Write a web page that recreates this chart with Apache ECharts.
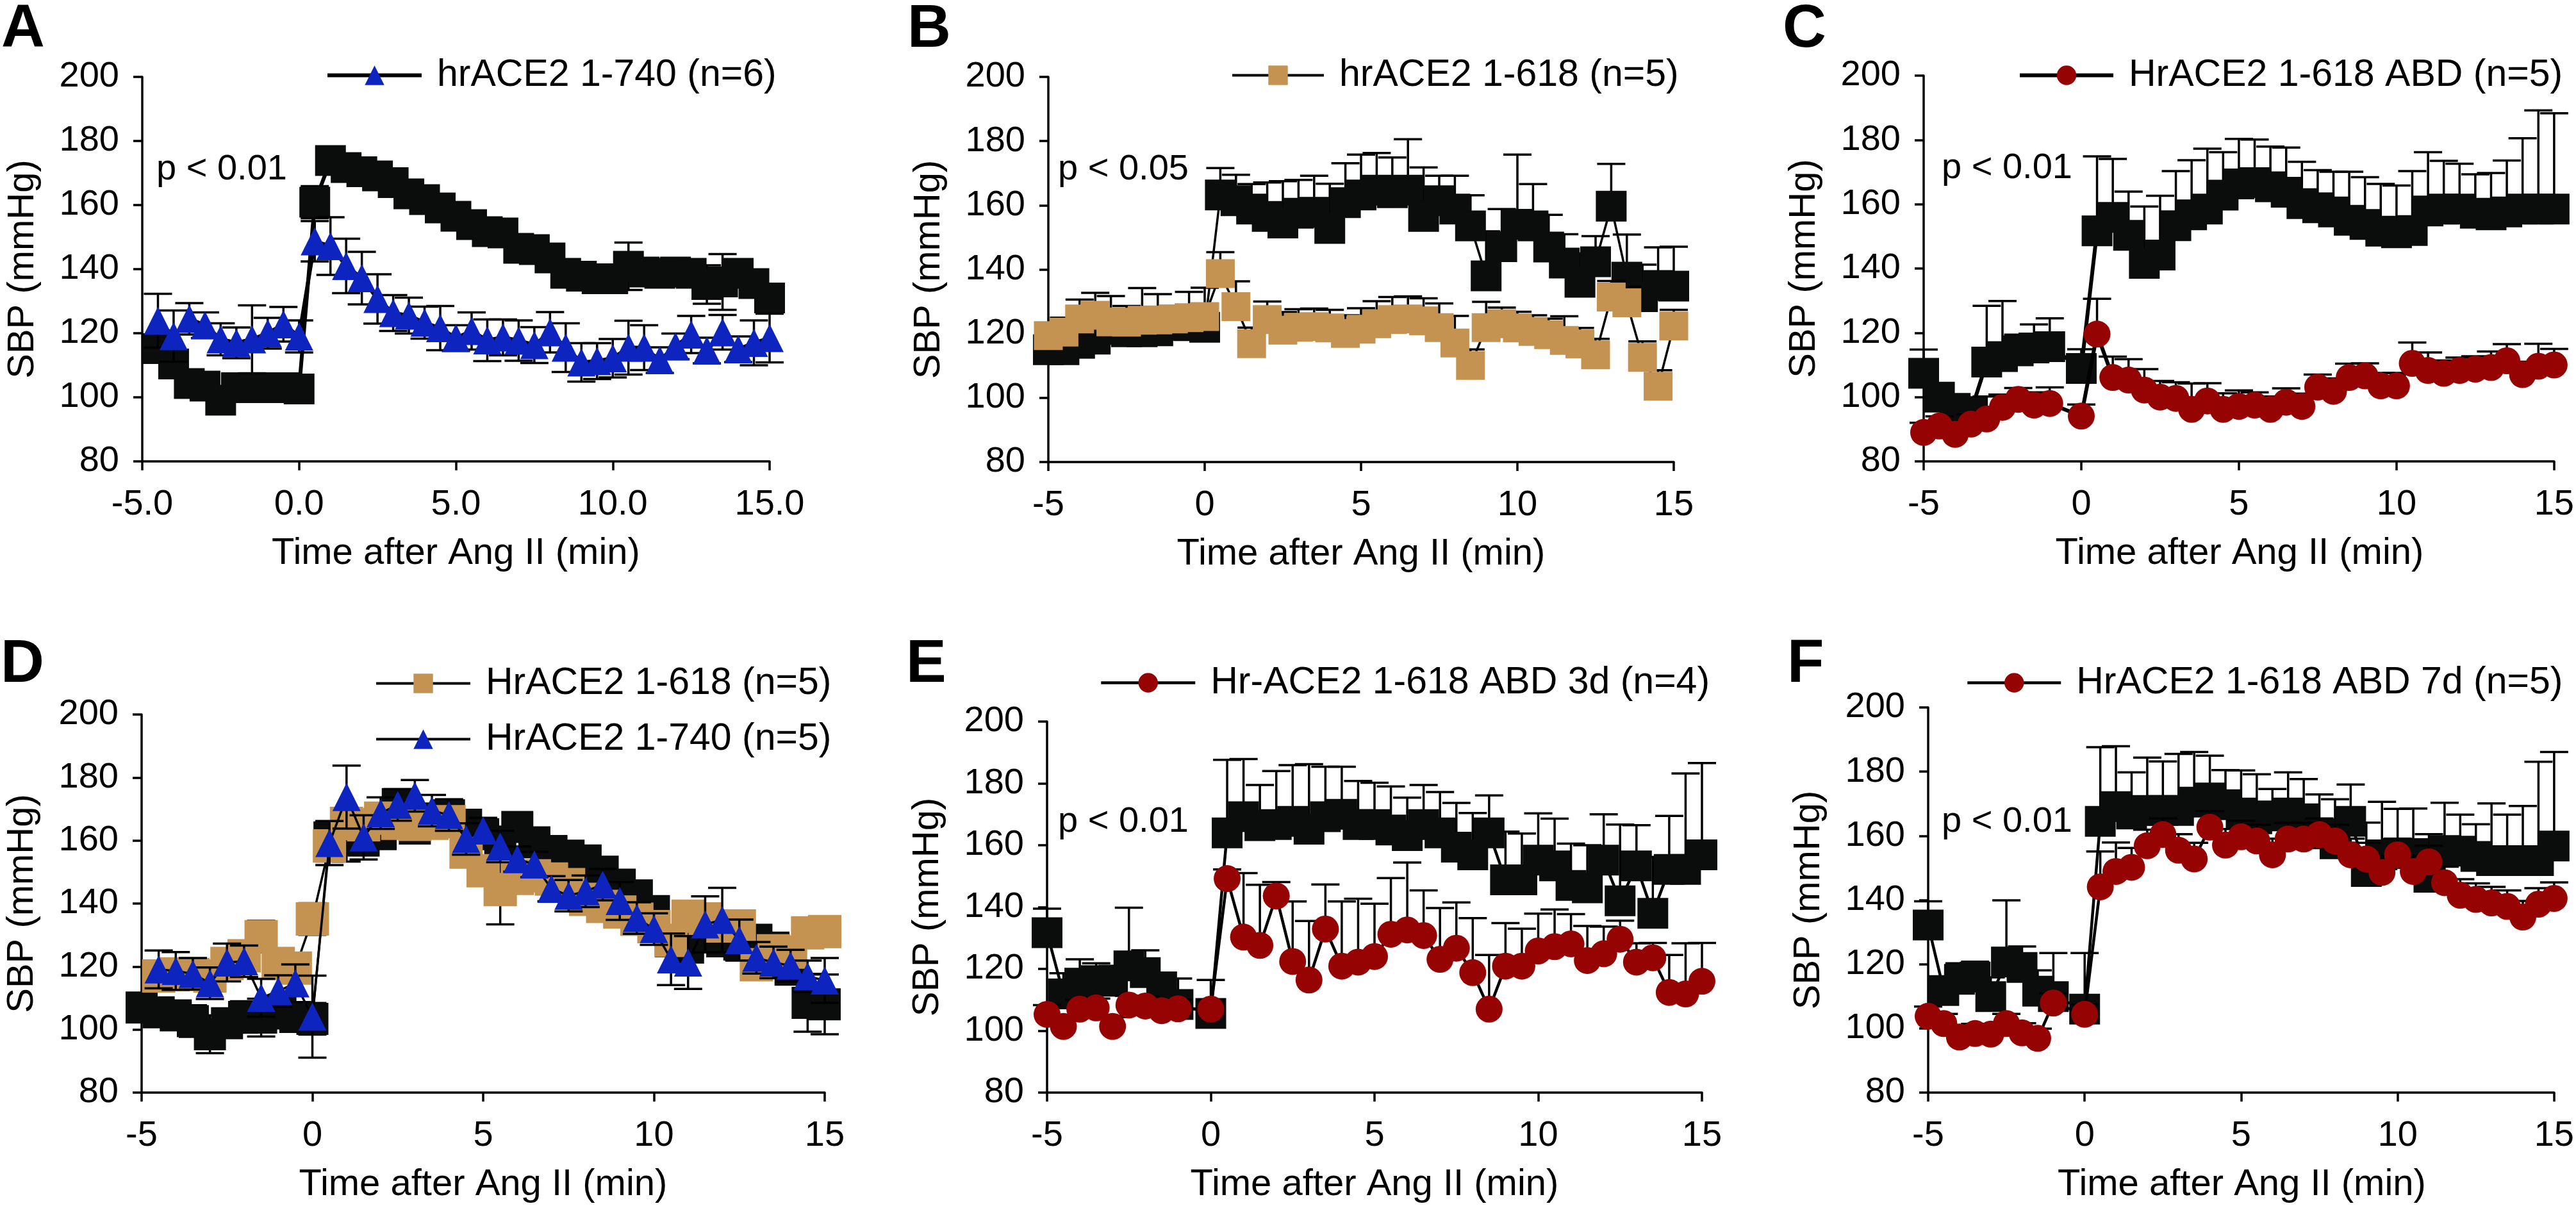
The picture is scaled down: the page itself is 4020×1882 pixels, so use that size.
<!DOCTYPE html>
<html><head><meta charset="utf-8">
<script src="https://cdn.jsdelivr.net/npm/echarts@6/dist/echarts.min.js"></script>
<style>html,body{margin:0;padding:0;background:#fff}#c{width:4020px;height:1882px}</style>
</head><body><div id="c"></div>
<script>
// ---------- DATA ----------
const time = [-5,-4.5,-4,-3.5,-3,-2.5,-2,-1.5,-1,-0.5,0,0.5,1,1.5,2,2.5,3,3.5,4,4.5,5,5.5,6,6.5,7,7.5,8,8.5,9,9.5,10,10.5,11,11.5,12,12.5,13,13.5,14,14.5,15];
const yTicks = [80,100,120,140,160,180,200];
const xTicks = [-5,0,5,10,15];

// Panel A
const aCtrl = [null,115.2,110.4,104.3,103.5,99.1,103.0,103.0,103.0,103.0,102.6,160.9,173.9,171.7,170.4,169.1,167.0,163.5,161.7,159.1,156.5,153.9,151.7,151.3,146.5,146.1,143.5,138.7,137.8,137.0,137.0,140.9,139.1,138.7,139.1,138.7,135.2,136.0,138.7,135.5,131.0];
const aCtrlErr = [null,3,4,3,3,3,3,3,3,3,3,5,3,3,3,3,3,3,3,3,3,3,3,3,3,3,3,3,3,3,3,7.4,3,3,3,3,6,8.7,3,4,4];
const a740 = [null,123.9,119.1,124.5,122.5,118.1,117.0,118.1,120.0,122.8,119.0,148.7,147.2,141.0,137.2,130.7,126.3,125.5,123.3,121.6,118.5,120.7,117.8,118.7,117.7,116.3,120.3,115.5,110.9,111.3,112.2,115.5,115.5,111.6,115.9,119.6,114.6,120.3,115.0,117.0,118.5];
const a740Err = [null,8.4,8,4.9,4,5,4.8,10.6,4.8,5.4,5,6.3,9,8.5,8.2,7.7,5.6,5.6,5,6.9,4,5.8,6.5,5.6,6.3,5.6,6.3,7.6,6,5.6,6,8.4,7,4,4,5.8,4,5.4,4,7,7.6];

// Panel B
const bCtrl = [115.0,115.0,117.0,118.3,121.3,120.6,120.6,120.9,122.6,122.5,122.0,163.2,161.4,158.8,156.5,154.5,157.5,157.8,152.8,160.8,163.2,164.7,163.9,164.7,156.5,161.4,158.8,153.6,138.0,147.1,154.1,153.6,147.0,142.0,136.0,142.4,159.7,137.6,131.5,135.0,134.8];
const bCtrlErr = [3,3,4,5,5,5,5,5,5,5,5,8.4,8.1,7.8,10.6,13,10.4,11.4,13.9,12.3,12.6,11.6,11,15.9,15.3,7.8,10.4,9.5,13.9,11.7,21.7,13,10,9,9,8,13.2,13.3,10,11.9,12.3];
const b618 = [119.4,120.5,124.6,125.7,123.7,123.6,124.2,124.3,124.6,125.0,125.3,138.7,128.4,116.9,124.4,121.1,122.0,122.2,121.8,120.1,121.4,123.1,124.4,124.6,124.0,121.9,117.1,110.1,121.9,123.1,121.8,120.7,119.7,117.9,116.8,113.4,131.4,129.6,112.6,103.6,122.4];
const b618Err = [2,4.5,6,7,8,5,10,8,4,8,9,6.7,7.9,5,5.6,5.6,5.6,5.6,5.6,5.6,6.5,7,7,7,7,7.5,8.4,5,8,5,5,5,5,7.5,5,5,5,5,5,5,5];

// Panel C
const cCtrl = [107.4,100.0,96.5,95.5,110.9,112.6,114.4,115.3,115.7,null,108.9,151.7,155.9,150.3,141.6,144.2,153.3,156.7,158.5,162.8,166.3,166.7,165.4,163.7,160.2,158.9,157.6,155.0,153.7,151.6,151.1,151.8,157.9,158.5,158.5,157.2,156.7,157.6,158.5,158.5,158.5];
const cCtrlErr = [7.4,2,3,3,17.5,17.3,5,7.3,8.8,null,6,23.2,18.2,13.6,17.7,18.4,17,17,18.8,13.4,14,13.4,12.5,13.9,13,11.7,12.5,15.1,14.7,14.7,14.7,18.5,18.3,15,14.1,12.1,13,16,22,30.7,29.8];
const cAbd = [89.0,91.0,88.4,91.6,93.2,96.8,99.3,97.5,98.0,null,94.1,119.6,106.1,105.3,102.2,100.0,99.6,96.2,98.8,96.2,97.1,97.5,96.2,98.4,97.1,103.1,101.8,106.1,106.6,103.5,103.5,110.5,108.3,107.4,108.3,108.7,109.2,111.3,107.0,109.6,110.0];
const cAbdErr = [3,3,3,3,7,4,3.5,4,5,null,3.6,11,6.5,6.5,6.5,5,5,8,5.5,5,5,4,4,4.3,4,3.9,4,4.3,3.9,4,4,6.5,5.6,4,4,4,5,5.2,4,7,5];

// Panel D
const dCtrl = [107.0,105.5,104.5,102.7,98.5,102.0,104.0,103.8,105.4,104.0,103.4,161.0,160.3,160.0,162.0,171.6,163.8,167.0,168.0,165.0,162.0,159.7,164.3,159.4,156.7,155.2,153.7,150.1,146.0,142.6,137.6,128.0,126.0,130.0,128.0,127.0,128.5,126.0,119.0,108.5,108.0];
const dCtrlErr = [4,4,4,5,6,4,5,6,5,4,5,5,7,4,4,4,4,4,4,4,4,4,4,4,4,4,4,4,4,4,4,4,4,4,4,4,4,4,4,9.2,9.5];
const d618 = [null,117.0,117.7,117.5,117.0,121.0,123.4,129.5,121.0,119.5,135.1,158.3,165.4,165.0,167.1,165.5,165.1,165.5,166.0,156.3,150.4,144.4,148.0,148.8,147.8,146.0,141.3,139.1,137.3,135.0,132.7,128.3,136.0,135.1,132.9,132.9,120.6,125.0,124.6,130.7,131.1];
const d618Err = [null,4,4,4,4,4,4,5,4,4,5,5,4,4,4,4,4,4,4,4,4,11,4,4,4,4,4,4,4,4,4,4,4,4,4,4,4,4,4,4,4];
const d740 = [null,119.1,118.6,117.7,114.7,121.3,121.7,110.1,112.2,114.7,104.1,159.2,173.8,161.0,168.7,171.3,174.2,169.5,168.1,160.5,163.2,158.1,154.1,152.4,144.7,142.5,143.9,146.0,140.8,135.4,131.9,122.3,121.3,133.4,134.8,128.4,122.8,121.3,120.3,116.9,115.6];
const d740Err = [null,6,6,5,5,6,5,6,5,6,13,7,10,7,5,5,5,5,5,5,4,5,4,4,4,5,5,5,6,5,5,8.2,8.4,8.9,10.2,6.5,5,5,5,5,7.1];

// Panel E
const eCtrl = [131.7,111.9,115.4,116.2,116.0,121.0,118.8,114.2,108.5,null,105.6,164.0,169.2,166.3,166.7,167.7,165.2,169.2,170.0,166.7,166.7,164.9,163.1,166.7,164.0,159.4,156.9,164.0,148.8,148.8,155.2,153.3,147.0,146.2,155.2,142.0,153.3,138.0,152.2,152.2,156.9];
const eCtrlErr = [7.8,6.7,7.7,5.6,5,18.8,7.2,4.3,8.4,null,10.8,23.6,18.7,13.2,17.3,18.2,21,16.2,15.4,14.1,13.5,14.1,12.3,12.8,13.2,14.3,13.5,12.1,15.6,15,15.1,15.3,13.5,13.8,14.8,24.7,13.2,18.2,17.3,31,29.7];
const eAbd3 = [105.3,101.4,107.0,107.4,101.4,108.3,108.0,106.5,107.1,null,107.0,149.2,130.3,127.6,143.6,122.4,116.4,132.9,120.9,122.2,124.0,131.2,132.6,130.8,123.1,126.7,118.8,107.0,120.9,120.9,125.8,127.2,128.1,122.7,124.9,129.6,122.2,123.6,112.4,111.9,116.0];
const eAbd3Err = [3,3,3,3,3,3,3,3,3,null,3,3,20.7,19.6,4.5,19.4,19.1,14.4,20.9,20.5,17.1,18.2,21.8,14.6,16.6,14.8,17.6,17.5,13.9,12.1,12.1,12,9.6,11.2,8.8,6,6.1,4.8,12.1,16.4,12.4];

// Panel F
const fCtrl = [132.2,111.8,115.3,116.0,109.9,120.7,119.0,111.6,109.9,null,106.0,164.5,169.1,166.8,167.9,167.9,167.9,170.5,171.8,169.7,167.1,165.3,166.2,167.1,165.3,160.6,157.5,164.5,148.9,154.1,154.5,154.5,147.1,155.4,155.2,153.6,152.3,152.3,152.3,152.3,156.8];
const fCtrlErr = [7.4,3.7,5,4.8,6,19.2,6.5,6.5,13.6,null,17.5,23.1,18.8,13,16.5,15.3,17.6,15.6,13.2,10.8,13.3,13.9,8.4,12.7,12.4,12.3,13.9,11.5,15.2,16.5,13.9,14,13.4,14.9,11.4,10,17.8,14.3,17,30.8,29.3];
const fAbd7 = [103.8,101.5,97.3,98.4,98.2,101.5,98.6,96.9,107.9,null,104.4,144.1,148.9,150.2,156.9,160.4,155.5,152.8,162.7,157.1,159.7,158.4,154.1,159.0,159.0,160.4,158.4,154.1,152.8,148.6,154.1,148.9,151.9,145.4,141.5,140.2,139.1,138.0,134.7,138.7,140.5];
const fAbd7Err = [3,3,3,3,3,3,3,3,3,null,3,11,9,6,5,5,5,5,5,5,5,5,5,5,5,5,5,5,5,5,5,5,5,5,5,5,5,5,5,5,5];

// ---------- STYLE / LAYOUT ----------
const BLACK = '#0b0c0c', BLUE = '#0d24bf', TAN = '#c49352', RED = '#960303';
const FONT = "'Liberation Sans', Arial, Helvetica, sans-serif";

const panels = [
  {letter:'A', left:222, top:120, width:979, height:600, dec:true, dir:'both', lw:6, p:'p < 0.01', pPos:[244,265],
   legend:{left:508, top:88, w:147},
   ser:[{name:'ctrlA', v:aCtrl, e:aCtrlErr, sym:'rect', size:48, color:BLACK},
        {name:'hrACE2 1-740 (n=6)', v:a740, e:a740Err, sym:'triangle', size:44, color:BLUE, legend:true}]},
  {letter:'B', left:1636, top:120, width:976, height:601, dir:'up', lw:3.5, p:'p < 0.05', pPos:[1651,265],
   legend:{left:1921, top:88, w:143},
   ser:[{name:'ctrlB', v:bCtrl, e:bCtrlErr, sym:'rect', size:48, color:BLACK},
        {name:'hrACE2 1-618 (n=5)', v:b618, e:b618Err, sym:'rect', size:45, color:TAN, legend:true}]},
  {letter:'C', left:3002, top:118, width:986, height:602, dir:'up', lw:6, p:'p < 0.01', pPos:[3030,263],
   legend:{left:3149, top:88, w:146},
   ser:[{name:'ctrlC', v:cCtrl, e:cCtrlErr, sym:'rect', size:48, color:BLACK},
        {name:'HrACE2 1-618 ABD (n=5)', v:cAbd, e:cAbdErr, sym:'circle', size:42, color:RED, legend:true}]},
  {letter:'D', left:221, top:1115, width:1066, height:590, dir:'both', lw:3.5, p:null,
   legend:{left:585, top:1037, w:147},
   ser:[{name:'ctrlD', v:dCtrl, e:dCtrlErr, sym:'rect', size:50, color:BLACK},
        {name:'HrACE2 1-618 (n=5)', v:d618, e:d618Err, sym:'rect', size:52, color:TAN, legend:true},
        {name:'HrACE2 1-740 (n=5)', v:d740, e:d740Err, sym:'triangle', size:44, color:BLUE, legend:true}]},
  {letter:'E', left:1634, top:1126, width:1022, height:579, dir:'up', lw:4.5, p:'p < 0.01', pPos:[1651,1283],
   legend:{left:1716, top:1036, w:147},
   ser:[{name:'ctrlE', v:eCtrl, e:eCtrlErr, sym:'rect', size:48, color:BLACK},
        {name:'Hr-ACE2 1-618 ABD 3d (n=4)', v:eAbd3, e:eAbd3Err, sym:'circle', size:42, color:RED, legend:true}]},
  {letter:'F', left:3009, top:1104, width:979, height:601, dir:'up', lw:4.5, p:'p < 0.01', pPos:[3030,1283],
   legend:{left:3068, top:1036, w:146},
   ser:[{name:'ctrlF', v:fCtrl, e:fCtrlErr, sym:'rect', size:48, color:BLACK},
        {name:'HrACE2 1-618 ABD 7d (n=5)', v:fAbd7, e:fAbd7Err, sym:'circle', size:42, color:RED, legend:true}]}
];

// ---------- BUILD ----------
const grid = [], xAxis = [], yAxis = [], series = [], legend = [], graphic = [];
const axisCommon = {
  axisLine:{show:true, onZero:false, lineStyle:{color:'#000', width:3.5}},
  axisTick:{show:true, inside:false, length:14, lineStyle:{color:'#000', width:3.5}},
  splitLine:{show:false}
};

function errorSeries(i, vals, errs, dir, z){
  const data = [];
  time.forEach((t,k)=>{ if(vals[k]!=null && errs[k]!=null) data.push([t, vals[k], errs[k]]); });
  return {
    type:'custom', xAxisIndex:i, yAxisIndex:i, z:z, silent:true, data:data,
    encode:{x:0, y:1},
    renderItem:function(params, api){
      const x = api.value(0), y = api.value(1), e = api.value(2);
      const hi = api.coord([x, y + e]);
      const lo = dir === 'both' ? api.coord([x, y - e]) : api.coord([x, y]);
      const hw = 22, st = {stroke:'#000', lineWidth:3.5};
      const ch = [
        {type:'line', shape:{x1:hi[0], y1:hi[1], x2:lo[0], y2:lo[1]}, style:st},
        {type:'line', shape:{x1:hi[0]-hw, y1:hi[1], x2:hi[0]+hw, y2:hi[1]}, style:st}
      ];
      if (dir === 'both') ch.push({type:'line', shape:{x1:lo[0]-hw, y1:lo[1], x2:lo[0]+hw, y2:lo[1]}, style:st});
      return {type:'group', children:ch};
    }
  };
}

panels.forEach((p, i) => {
  grid.push({left:p.left, top:p.top, width:p.width, height:p.height});
  xAxis.push(Object.assign({gridIndex:i, type:'value', min:xTicks[0], max:xTicks[xTicks.length-1], interval:5,
    axisLabel:{fontSize:56, color:'#000', fontFamily:FONT, margin:40,
      formatter: v => p.dec ? v.toFixed(1) : String(v)}}, axisCommon));
  yAxis.push(Object.assign({gridIndex:i, type:'value', min:yTicks[0], max:yTicks[yTicks.length-1], interval:20,
    axisLabel:{fontSize:56, color:'#000', fontFamily:FONT, margin:36}}, axisCommon));

  let z = 2;
  const legendNames = [];
  p.ser.forEach(s => {
    series.push(errorSeries(i, s.v, s.e, p.dir, z));
    series.push({
      type:'line', name:s.name, xAxisIndex:i, yAxisIndex:i, z:z+1,
      data: time.map((t,k) => [t, s.v[k]]),
      connectNulls:true, symbol:s.sym, symbolSize:s.size, showAllSymbol:true,
      itemStyle:{color:s.color, opacity:1},
      lineStyle:{color:'#000', width:p.lw},
      emphasis:{disabled:true}, silent:true
    });
    if (s.legend) legendNames.push(s.name);
    z += 2;
  });

  legend.push({
    data:legendNames, left:p.legend.left, top:p.legend.top, orient:'vertical',
    itemWidth:p.legend.w, itemHeight:38, itemGap:28, padding:0, selectedMode:false,
    textStyle:{fontSize:59, color:'#000', fontFamily:FONT, padding:[0,0,0,19]},
    lineStyle:{width: Math.max(p.lw, 4)}
  });

  const midX = p.left + p.width/2, midY = p.top + p.height/2, bottom = p.top + p.height;
  graphic.push({type:'text', x:p.left - 220, y:(i<3?47:1038),
    style:{text:p.letter, font:'bold 94px ' + FONT, fill:'#000', textVerticalAlign:'middle', textAlign:'left'}});
  graphic.push({type:'text', x:midX, y:bottom + 144,
    style:{text:'Time after Ang II (min)', font:'58px ' + FONT, fill:'#000', textAlign:'center', textVerticalAlign:'middle'}});
  graphic.push({type:'text', x:p.left - 186, y:midY, rotation:Math.PI/2,
    style:{text:'SBP (mmHg)', font:'58px ' + FONT, fill:'#000', textAlign:'center', textVerticalAlign:'middle'}});
  if (p.p) graphic.push({type:'text', x:p.pPos[0], y:p.pPos[1],
    style:{text:p.p, font:'56px ' + FONT, fill:'#000', textAlign:'left', textVerticalAlign:'middle'}});
});

const chart = echarts.init(document.getElementById('c'), null, {renderer:'canvas'});
chart.setOption({
  animation:false, backgroundColor:'#fff',
  textStyle:{fontFamily:FONT},
  grid, xAxis, yAxis, series, legend, graphic
});
</script></body></html>
